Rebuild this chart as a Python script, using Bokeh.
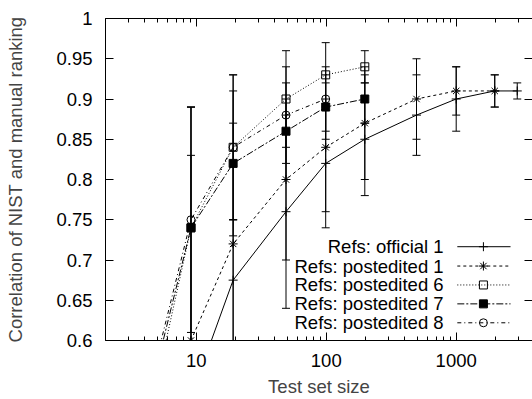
import math
from bokeh.plotting import figure
from bokeh.models import LogAxis, LinearAxis, FixedTicker, Range1d, CustomJSTickFormatter
from bokeh.core.properties import value
from bokeh.embed import file_html
from bokeh.resources import INLINE

nan = float("nan")

# ---- data ----
sizes = [5, 9.1, 19.2, 49, 99, 198, 495, 1000, 1980, 2950]

official_1 = [nan, 0.53, 0.675, 0.76, 0.82, 0.85, 0.88, 0.90, 0.91, 0.91]
official_1_err = [nan, nan, 0.075, 0.12, 0.08, 0.07, 0.05, 0.04, 0.02, 0.01]

postedited_1 = [nan, 0.60, 0.72, 0.80, 0.84, 0.87, 0.90, 0.91, 0.91, nan]
postedited_1_err = [nan, 0.23, 0.15, 0.10, 0.08, 0.07, 0.05, 0.03, 0.02, nan]

postedited_6 = [0.55, 0.74, 0.84, 0.90, 0.93, 0.94, nan, nan, nan, nan]
postedited_6_err = [nan, 0.15, 0.09, 0.06, 0.04, 0.02, nan, nan, nan, nan]

postedited_7 = [0.57, 0.74, 0.82, 0.86, 0.89, 0.90, nan, nan, nan, nan]
postedited_7_err = [nan, 0.15, 0.09, 0.06, 0.04, 0.03, nan, nan, nan, nan]

postedited_8 = [0.58, 0.75, 0.84, 0.88, 0.90, nan, nan, nan, nan, nan]
postedited_8_err = [nan, 0.14, 0.09, 0.06, 0.04, nan, nan, nan, nan, nan]

series_names = ["Refs: official 1", "Refs: postedited 1", "Refs: postedited 6",
                "Refs: postedited 7", "Refs: postedited 8"]

x_major_ticks = [10, 100, 1000]
x_tick_labels = ["10", "100", "1000"]
x_minor_ticks = [m * 10 ** e for e in range(0, 4) for m in range(2, 10)]
y_ticks = [0.6, 0.65, 0.7, 0.75, 0.8, 0.85, 0.9, 0.95, 1.0]
y_tick_labels = ["0.6", "0.65", "0.7", "0.75", "0.8", "0.85", "0.9", "0.95", "1"]

# ---- styles ----
FONT = "Liberation Sans"
FS = "18.5px"
styles = [
    dict(dash="solid", marker="cross", size=9, fill=None),
    dict(dash="3 3", marker="asterisk", size=9, fill=None),
    dict(dash="1 2", marker="square", size=8, fill=None),
    dict(dash="7 2 2 2", marker="square", size=8, fill="black"),
    dict(dash="4 3 1 3", marker="circle", size=8, fill=None),
]
values = [official_1, postedited_1, postedited_6, postedited_7, postedited_8]
errors = [official_1_err, postedited_1_err, postedited_6_err, postedited_7_err, postedited_8_err]

YMIN, YMAX = 0.6, 1.0
p = figure(width=532, height=399, x_axis_type="log",
           x_range=Range1d(2, 3866), y_range=Range1d(YMIN, YMAX),
           output_backend="svg", toolbar_location=None,
           min_border_left=105, min_border_right=0, min_border_top=18, min_border_bottom=56)
p.outline_line_color = None
p.xgrid.visible = False
p.ygrid.visible = False
p.background_fill_color = "white"
p.border_fill_color = "white"

xt = FixedTicker(ticks=x_major_ticks, minor_ticks=x_minor_ticks)
yt = FixedTicker(ticks=y_ticks, minor_ticks=[])

def style_axis(ax, labels=True):
    ax.axis_line_color = "black"
    ax.axis_line_width = 1
    ax.major_tick_in = 8
    ax.major_tick_out = 0
    ax.minor_tick_in = 4
    ax.minor_tick_out = 0
    ax.major_tick_line_color = "black"
    ax.minor_tick_line_color = "black"
    ax.major_label_text_font = FONT
    ax.major_label_text_font_size = FS if labels else "1px"
    ax.major_label_text_color = "black"
    ax.axis_label_text_font = FONT
    ax.axis_label_text_font_size = FS
    ax.axis_label_text_font_style = "normal"
    ax.axis_label_text_color = "#444444"

xa = p.xaxis[0]
xa.ticker = xt
xa.major_label_overrides = {v: s for v, s in zip(x_major_ticks, x_tick_labels)}
style_axis(xa)
xa.major_label_standoff = 13
xa.axis_label = "Test set size"
xa.axis_label_standoff = 6

ya = p.yaxis[0]
ya.ticker = yt
ya.formatter = CustomJSTickFormatter(code="return String(Math.round(tick*100)/100);")
style_axis(ya)
ya.major_label_standoff = 13
ya.axis_label = "Correlation of NIST and manual ranking"
ya.axis_label_standoff = 27

blank = CustomJSTickFormatter(code="return '';")
top = LogAxis(ticker=xt, formatter=blank)
style_axis(top, labels=False)
top.major_label_standoff = 0
top.axis_label_standoff = 0
p.add_layout(top, "above")

right = LinearAxis(ticker=yt, formatter=blank)
style_axis(right, labels=False)
right.major_label_standoff = 0
right.axis_label_standoff = 0
right.axis_line_color = None
p.add_layout(right, "right")

# ---- series ----
for ys, es, st in zip(values, errors, styles):
    p.line(sizes, ys, line_color="black", line_width=1, line_dash=st["dash"])
    bx, lo, hi = [], [], []
    for x, y, e in zip(sizes, ys, es):
        if not math.isnan(y) and not math.isnan(e) and YMIN <= y <= YMAX:
            bx.append(x); lo.append(y - e); hi.append(y + e)
    p.segment(x0=bx, y0=lo, x1=bx, y1=hi, line_color="black", line_width=1)
    p.scatter(bx, lo, marker="dash", size=8, line_color="black", line_width=1)
    p.scatter(bx, hi, marker="dash", size=8, line_color="black", line_width=1)
    px = [x for x, y in zip(sizes, ys) if not math.isnan(y)]
    py = [y for y in ys if not math.isnan(y)]
    p.scatter(px, py, marker=st["marker"], size=st["size"], line_color="black",
              line_width=1, fill_color=st["fill"] if st["fill"] else "white",
              fill_alpha=1 if st["fill"] else 0)

# ---- legend (gnuplot style: label, then sample) ----
leg_text_x = 800
leg_x0, leg_x1, leg_mark_x = 1020, 2620, 1620
leg_rows = [0.7165, 0.6925, 0.669, 0.6455, 0.622]
p.text(x=[leg_text_x] * 5, y=leg_rows, text=series_names, text_align="right",
       text_baseline="middle", text_font=value(FONT), text_font_size=FS, text_color="black")
for yrow, st in zip(leg_rows, styles):
    p.line([leg_x0, leg_x1], [yrow, yrow], line_color="black", line_width=1, line_dash=st["dash"])
    p.scatter([leg_mark_x], [yrow], marker=st["marker"], size=st["size"], line_color="black",
              line_width=1, fill_color=st["fill"] if st["fill"] else "white",
              fill_alpha=1 if st["fill"] else 0)

open("out.html", "w").write(file_html(p, INLINE))
